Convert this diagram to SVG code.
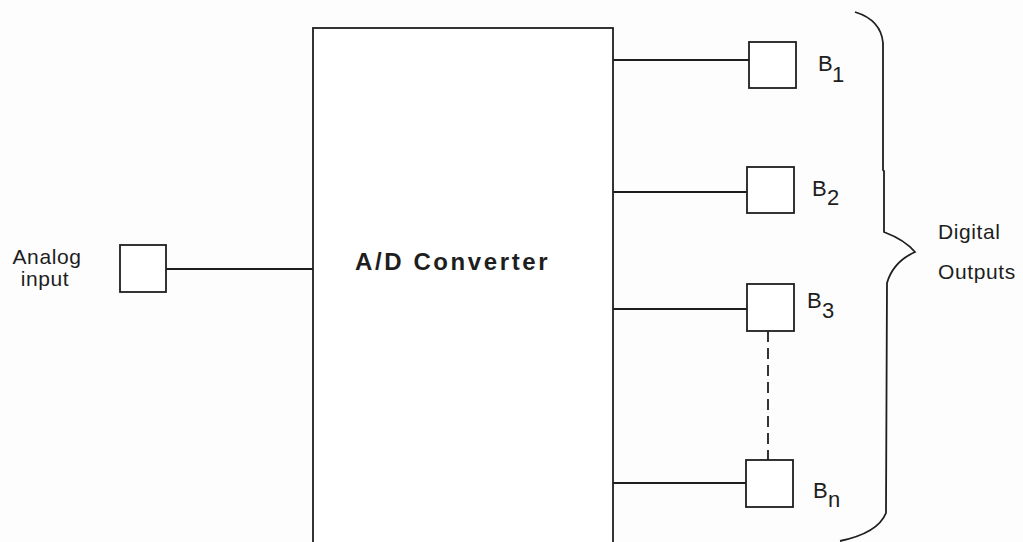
<svg xmlns="http://www.w3.org/2000/svg" width="1023" height="542" viewBox="0 0 1023 542">
<style>
.ln{stroke:#1e1e1e;stroke-width:1.8;fill:none}
.box{stroke:#1e1e1e;stroke-width:1.8;fill:#ffffff}
.t{font-family:"Liberation Sans",Arial,sans-serif;fill:#1e1e1e;font-size:21px;letter-spacing:0.6px}
.b{font-family:"Liberation Sans",Arial,sans-serif;fill:#1e1e1e;font-size:22px}
.title{font-family:"Liberation Sans",Arial,sans-serif;fill:#1e1e1e;font-size:24px;font-weight:bold;letter-spacing:2.6px}
</style>
<rect x="0" y="0" width="1023" height="542" fill="#fdfdfd"/>
<g id="connectors">
<line class="ln" x1="166" y1="269" x2="313" y2="269"/>
<line class="ln" x1="613" y1="60" x2="749" y2="60"/>
<line class="ln" x1="613" y1="192" x2="747" y2="192"/>
<line class="ln" x1="613" y1="309" x2="747" y2="309"/>
<line class="ln" x1="613" y1="483" x2="746" y2="483"/>
<line class="ln" x1="768" y1="331" x2="768" y2="460" stroke-dasharray="11,6"/>
</g>
<g id="converter">
<rect class="box" x="313" y="28" width="300" height="540"/>
<text class="title" x="355" y="270">A/D Converter</text>
</g>
<g id="analog-input">
<rect class="box" x="120" y="245" width="46" height="47"/>
<text class="t" x="47" y="264" text-anchor="middle">Analog</text>
<text class="t" x="45" y="286" text-anchor="middle">input</text>
</g>
<g id="b1">
<rect class="box" x="749" y="42" width="47" height="46"/>
<text class="b" x="818" y="71">B</text><text class="b" x="832" y="82">1</text>
</g>
<g id="b2">
<rect class="box" x="747" y="167" width="47" height="46"/>
<text class="b" x="812" y="196">B</text><text class="b" x="827" y="205">2</text>
</g>
<g id="b3">
<rect class="box" x="747" y="284" width="47" height="47"/>
<text class="b" x="807" y="308">B</text><text class="b" x="822" y="318">3</text>
</g>
<g id="bn">
<rect class="box" x="746" y="460" width="47" height="47"/>
<text class="b" x="813" y="498">B</text><text class="b" x="828" y="507">n</text>
</g>
<g id="digital-outputs">
<path class="ln" d="M855 12 Q881 20 883 43 L883 170 L884 171 L884 232 Q905 240 915 252 Q893 262 887 283 L886 513 Q878 533 840 541"/>
<text class="t" x="938" y="239">Digital</text>
<text class="t" x="938" y="279">Outputs</text>
</g>
</svg>
